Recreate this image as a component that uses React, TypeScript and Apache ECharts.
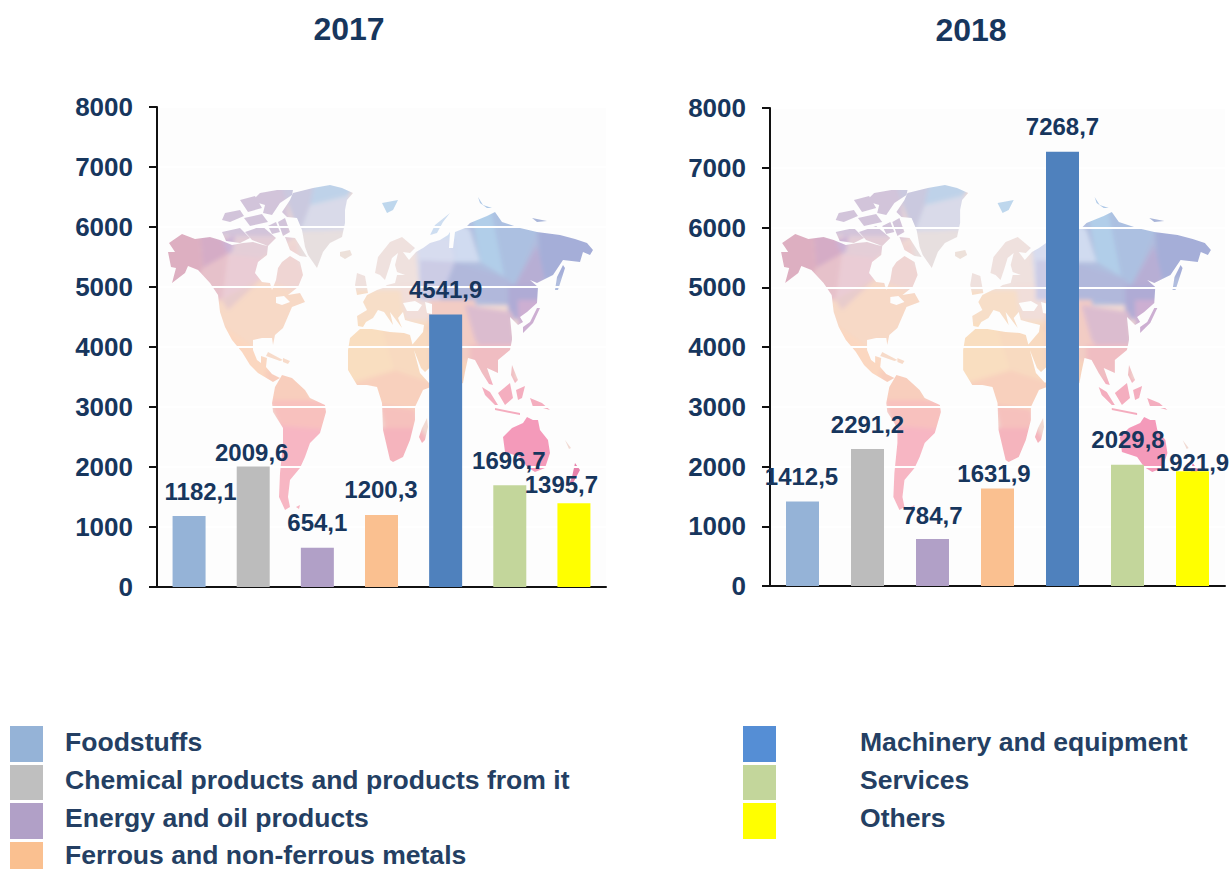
import React, { useEffect, useRef } from "react";
import * as echarts from "echarts";

const categories = ["Foodstuffs", "Chemical products and products from it", "Energy and oil products", "Ferrous and non-ferrous metals", "Machinery and equipment", "Services", "Others"];
const years = ["2017", "2018"];
const values2017 = [1182.1, 2009.6, 654.1, 1200.3, 4541.9, 1696.7, 1395.7];
const values2018 = [1412.5, 2291.2, 784.7, 1631.9, 7268.7, 2029.8, 1921.9];
const barColors = ["#95B3D7", "#BCBCBC", "#B1A0C7", "#FAC090", "#4F81BD", "#C3D69B", "#FFFF00"];
const legendColors = ["#95B3D7", "#BFBFBF", "#B1A0C7", "#FAC090", "#558ED5", "#C3D69B", "#FFFF00"];
const labelOffsets2017 = [[11.5, -13], [-1.5, -2], [0, -13], [-0.5, -13], [0, -13], [-1, -13], [-12.5, -7]];
const labelOffsets2018 = [[-1, -13], [0, -13], [0, -12], [-3.5, -3], [0, -13], [0.5, -13], [0, 3]];

const NAVY = "#17365D";
const LEGEND_TEXT = "#243F63";
const FONT = '"Liberation Sans", Arial, sans-serif';

type P = number[][];
// decorative world map, in page pixels of the left chart
const land: P[] = [
  // North America
  [[172,283],[185,273],[188,266],[198,270],[210,283],[218,295],[220,312],[225,327],[232,340],[242,352],[250,365],[258,373],[273,382],[280,378],[272,374],[266,367],[267,358],[261,356],[261,363],[257,360],[253,350],[253,340],[262,338],[272,338],[273,345],[275,335],[283,328],[292,307],[305,302],[300,293],[288,295],[298,287],[303,275],[300,262],[290,256],[282,262],[278,268],[276,280],[272,290],[270,283],[262,282],[255,273],[258,262],[267,255],[268,246],[263,245],[253,242],[243,243],[232,245],[220,240],[210,237],[195,239],[182,234],[169,243],[175,252],[168,252],[171,267],[176,268]],
  // Arctic islands
  [[255,198],[260,193],[277,190],[293,190],[292,195],[280,203],[272,215],[263,213],[265,205],[255,202]],
  [[285,237],[295,238],[307,257],[300,256],[290,250]],
  [[222,232],[240,228],[250,238],[240,243],[226,241]],
  [[245,232],[262,226],[276,238],[268,246],[252,240]],
  [[278,222],[285,218],[290,232],[283,236]],
  [[225,213],[240,210],[244,216],[230,222],[222,220]],
  [[244,218],[262,214],[268,222],[250,226]],
  [[240,200],[255,196],[262,208],[248,212]],
  [[268,226],[276,222],[280,232],[272,234]],
  // Greenland, Iceland
  [[282,212],[290,200],[293,193],[313,188],[330,185],[342,188],[353,193],[347,200],[345,210],[345,223],[342,237],[330,243],[323,252],[317,268],[308,255],[305,247],[302,230],[297,218],[287,217]],
  [[340,252],[350,250],[352,255],[345,259],[340,256]],
  // Eurasia
  [[358,326],[357,316],[367,310],[363,302],[367,295],[377,290],[383,288],[387,285],[395,283],[397,275],[405,275],[397,272],[395,265],[398,253],[392,258],[389,268],[385,280],[380,275],[375,273],[378,257],[390,242],[402,237],[415,248],[410,253],[403,252],[409,260],[416,252],[423,248],[430,243],[440,240],[448,235],[450,232],[449,248],[453,248],[455,232],[465,228],[470,223],[487,216],[495,212],[502,222],[520,228],[537,232],[560,235],[575,239],[587,243],[593,250],[590,255],[583,252],[580,262],[563,260],[553,275],[537,283],[530,280],[538,287],[537,303],[527,312],[520,317],[523,322],[518,325],[510,317],[512,337],[512,340],[510,350],[498,360],[498,373],[487,368],[493,385],[489,384],[482,373],[475,360],[468,358],[465,372],[463,383],[458,385],[450,362],[445,350],[438,360],[425,372],[421,368],[412,345],[423,332],[424,325],[412,322],[405,320],[403,312],[398,318],[402,328],[396,320],[390,312],[393,325],[384,312],[378,310],[373,318],[366,322],[363,327]],
  // Africa, Madagascar
  [[348,350],[350,338],[360,329],[372,329],[390,332],[404,333],[410,335],[420,373],[429,383],[438,372],[436,385],[423,390],[415,407],[415,420],[410,440],[403,457],[393,462],[390,460],[383,430],[382,403],[377,387],[367,385],[357,385],[348,370]],
  [[419,437],[422,428],[427,418],[428,427],[425,440],[422,443]],
  // South America
  [[272,403],[275,387],[282,375],[292,378],[305,390],[310,398],[325,405],[326,412],[320,433],[310,443],[305,457],[300,468],[290,480],[288,497],[290,507],[285,510],[279,497],[280,473],[283,443],[283,428],[273,412]],
  // Australia and the archipelagos
  [[503,437],[512,428],[523,423],[527,417],[533,420],[538,420],[540,430],[548,440],[550,453],[545,468],[535,472],[527,467],[520,457],[505,452]],
  [[482,387],[490,392],[498,405],[495,405],[485,395]],
  [[498,393],[510,383],[513,398],[505,405]],
  [[495,408],[520,413],[520,415],[495,410]],
  [[516,390],[525,386],[522,398],[518,400]],
  [[530,398],[542,403],[550,410],[543,408],[533,407]],
  [[512,365],[518,380],[515,383],[511,375]],
  [[523,333],[533,323],[540,308],[537,308],[530,322],[523,327]],
  [[555,290],[557,277],[563,265],[565,268],[558,290]],
  [[430,235],[435,225],[450,213],[443,222],[437,233]],
  [[382,203],[398,200],[393,210],[387,213]],
  [[478,197],[483,205],[492,208],[487,208],[480,203]],
  [[532,218],[547,221],[537,222]],
  [[575,463],[580,470],[573,483],[568,487],[572,477]],
  [[357,273],[365,276],[368,293],[357,295],[355,285]],
  [[268,352],[283,360],[280,361],[266,356]],
  [[283,358],[290,361],[288,364],[283,362]],
  [[296,507],[300,505],[299,509]],
  [[565,440],[571,448],[569,449]],
];
const seas: P[] = [
  [[403,303],[415,301],[422,305],[418,311],[407,311]],
  [[425,302],[432,304],[432,314],[427,313]],
  [[276,297],[284,296],[290,302],[282,305],[276,303]],
];
const facets: [string, P][] = [
  ["#f7d6c2", [[200,280],[320,280],[320,400],[200,400]]],
  ["#aab8dc", [[415,200],[600,200],[600,305],[415,305]]],
  ["#f6d0b8", [[340,320],[470,320],[470,400],[340,400]]],
  ["#dba9bc", [[160,225],[200,232],[203,268],[190,290],[160,290]]],
  ["#d2a6c2", [[200,232],[232,240],[228,254],[203,268]]],
  ["#e5bcc6", [[203,268],[228,254],[222,300],[210,300],[195,280]]],
  ["#e9c8d2", [[228,254],[262,258],[260,280],[222,300]]],
  ["#e2cbd4", [[232,235],[300,235],[262,258],[228,254]]],
  ["#c9aed3", [[222,240],[235,235],[232,252],[228,254]]],
  ["#eed2d0", [[262,258],[300,240],[310,300],[260,280]]],
  ["#f7d6c2", [[222,300],[260,280],[312,295],[285,345],[250,345],[228,340],[215,320]]],
  ["#e6c8c8", [[222,300],[260,280],[228,310]]],
  ["#fbd4bb", [[215,320],[250,345],[300,390],[230,390]]],
  ["#f7d9c6", [[250,345],[285,345],[312,295],[320,340],[300,390]]],
  ["#cfc0d8", [[210,190],[283,180],[292,236],[215,236]]],
  ["#c6c5dd", [[280,180],[315,185],[310,225],[297,232]]],
  ["#b9cfe8", [[315,180],[360,180],[345,200],[310,205]]],
  ["#d6d8e8", [[310,205],[350,195],[350,230],[300,232]]],
  ["#e6dddd", [[297,232],[350,230],[340,245],[320,270],[300,265]]],
  ["#ecdfd8", [[335,245],[356,245],[356,262],[335,262]]],
  ["#f8cbb8", [[265,370],[300,370],[315,410],[270,405]]],
  ["#f8bcb9", [[270,400],[330,400],[325,440],[280,430]]],
  ["#f7b1bf", [[270,425],[330,430],[300,520],[270,520]]],
  ["#f7dcc4", [[345,285],[402,285],[430,325],[345,340]]],
  ["#f9dcbb", [[340,325],[380,320],[395,370],[350,390],[340,380]]],
  ["#f8d8bb", [[380,320],[430,330],[430,385],[395,370]]],
  ["#f8cdb8", [[345,385],[395,370],[440,385],[415,415],[380,410]]],
  ["#f6bcb8", [[380,405],[415,410],[420,430],[385,430]]],
  ["#f5aeb8", [[380,428],[420,428],[432,445],[400,470],[385,465]]],
  ["#eedfdc", [[352,230],[415,232],[420,290],[352,290]]],
  ["#f0dcd8", [[400,285],[430,285],[430,320],[405,320]]],
  ["#d4daee", [[415,232],[450,225],[455,260],[435,290],[420,290]]],
  ["#c8c8e4", [[420,260],[455,262],[440,300],[420,300]]],
  ["#cdd9ef", [[450,215],[470,230],[480,262],[455,262]]],
  ["#abcbe8", [[470,205],[495,210],[510,280],[480,262]]],
  ["#a6bbdf", [[490,205],[540,225],[515,285],[505,280]]],
  ["#9ea8d5", [[537,225],[600,235],[600,270],[545,280],[540,260]]],
  ["#b2a8d1", [[537,245],[545,280],[530,295],[515,285]]],
  ["#abb3d9", [[455,262],[510,280],[508,305],[475,300],[440,300]]],
  ["#a9a5d2", [[508,285],[540,285],[540,310],[515,320],[508,310]]],
  ["#f2c8c0", [[430,300],[475,300],[480,345],[470,360],[430,360]]],
  ["#d9b7cc", [[465,305],[512,312],[515,345],[490,360],[475,340]]],
  ["#efb8bd", [[470,345],[515,345],[515,395],[470,395]]],
  ["#c9a9cf", [[518,300],[548,300],[548,345],[518,345]]],
  ["#a8c5e6", [[470,190],[505,190],[505,212],[470,212]]],
  ["#b9d4ec", [[375,195],[405,195],[405,220],[375,220]]],
  ["#cbdcf0", [[425,210],[455,210],[455,238],[425,238]]],
  ["#a3b0d6", [[525,212],[552,212],[552,226],[525,226]]],
  ["#f4a8ba", [[475,380],[570,380],[570,420],[475,420]]],
  ["#f492b5", [[495,415],[560,415],[560,480],[495,480]]],
  ["#e577a5", [[560,455],[590,455],[590,495],[560,495]]],
];
const pts = (p: P) => p.map((q) => q.join(",")).join(" ");
const mapSvg =
  `<svg xmlns="http://www.w3.org/2000/svg" width="440" height="340" viewBox="160 180 440 340" preserveAspectRatio="none">` +
  `<defs><clipPath id="c">${land.map((p) => `<polygon points="${pts(p)}"/>`).join("")}</clipPath>` +
  `<filter id="b" x="-5%" y="-5%" width="110%" height="110%"><feGaussianBlur stdDeviation="2"/></filter>` +
  `<filter id="e" x="-5%" y="-5%" width="110%" height="110%"><feGaussianBlur stdDeviation="0.45"/></filter></defs>` +
  `<g filter="url(#e)" opacity="0.92"><g clip-path="url(#c)"><g filter="url(#b)"><rect x="150" y="170" width="460" height="360" fill="#f0d8d0"/>` +
  facets.map(([c, p]) => `<polygon points="${pts(p)}" fill="${c}"/>`).join("") +
  `</g>` +
  seas.map((p) => `<polygon points="${pts(p)}" fill="#fdfdfd"/>`).join("") +
  `</g></g></svg>`;
const mapUri = "data:image/svg+xml;charset=utf-8," + encodeURIComponent(mapSvg);

function buildOption() {
  const yAxis = (gridIndex: number) => ({
    type: "value", gridIndex, min: 0, max: 8000, interval: 1000,
    axisLine: { show: true, lineStyle: { color: "#111", width: 2 } },
    axisTick: { show: true, length: 8, lineStyle: { color: "#111", width: 2 } },
    axisLabel: { margin: 24, color: NAVY, fontFamily: FONT, fontWeight: "bold", fontSize: 26, formatter: (v: number) => String(v) },
    splitLine: { show: true, lineStyle: { color: "#ffffff", width: 2 } },
  });
  const xAxis = (gridIndex: number) => ({
    type: "category", gridIndex, data: categories,
    axisLine: { show: true, lineStyle: { color: "#111", width: 2 } },
    axisTick: { show: false }, axisLabel: { show: false }, splitLine: { show: false },
  });
  const series = (i: number, values: number[], offsets: number[][]) => ({
    type: "bar", xAxisIndex: i, yAxisIndex: i, barWidth: 33,
    data: values.map((v, k) => ({
      value: v,
      itemStyle: { color: barColors[k] },
      label: { offset: offsets[k] },
    })),
    label: {
      show: true, position: "top", distance: 0, color: NAVY, fontFamily: FONT,
      fontWeight: "bold", fontSize: 24,
      formatter: (p: any) => p.data.value.toFixed(1).replace(".", ","),
    },
  });
  const swatches = [
    [10, 726, 36], [10, 765, 35], [10, 803, 36], [10, 842, 27],
    [743, 726, 36], [743, 765, 35], [743, 803, 36],
  ];
  const textPos = [[65, 742], [65, 780], [65, 818], [65, 855], [860, 742], [860, 780], [860, 818]];
  const titlePos = [[349, 29], [971, 30]];
  return {
    animation: false,
    backgroundColor: "#ffffff",
    grid: [
      { left: 157, top: 107, width: 449, height: 480, containLabel: false },
      { left: 770, top: 108, width: 455, height: 478, containLabel: false },
    ],
    xAxis: [xAxis(0), xAxis(1)],
    yAxis: [yAxis(0), yAxis(1)],
    series: [series(0, values2017, labelOffsets2017), series(1, values2018, labelOffsets2018)],
    graphic: { elements: [
      { type: "rect", z: -3, silent: true, shape: { x: 157, y: 107, width: 449, height: 480 }, style: { fill: "#fdfdfd" } },
      { type: "rect", z: -3, silent: true, shape: { x: 770, y: 108, width: 455, height: 478 }, style: { fill: "#fdfdfd" } },
      { type: "image", z: -2, silent: true, style: { image: mapUri, x: 160, y: 180, width: 440, height: 340 } },
      { type: "image", z: -2, silent: true, style: { image: mapUri, x: 773, y: 180, width: 445, height: 340 } },
      ...years.map((y, i) => ({
        type: "text", silent: true,
        style: { text: y, x: titlePos[i][0], y: titlePos[i][1], fill: NAVY, align: "center", verticalAlign: "middle", font: `bold 32px ${FONT}` },
      })),
      ...swatches.map((s, i) => ({
        type: "rect", silent: true, shape: { x: s[0], y: s[1], width: 33, height: s[2] }, style: { fill: legendColors[i] },
      })),
      ...categories.map((c, i) => ({
        type: "text", silent: true, x: textPos[i][0], y: textPos[i][1], scaleX: 1.022,
        style: { text: c, x: 0, y: 0, fill: LEGEND_TEXT, verticalAlign: "middle", font: `bold 26px ${FONT}` },
      })),
    ] },
  };
}

export default function App() {
  const ref = useRef<HTMLDivElement>(null);
  useEffect(() => {
    document.body.style.margin = "0";
    const chart = echarts.init(ref.current!, undefined, { renderer: "svg" });
    chart.setOption(buildOption() as any);
    return () => chart.dispose();
  }, []);
  return <div ref={ref} style={{ width: 1230, height: 869 }} />;
}
